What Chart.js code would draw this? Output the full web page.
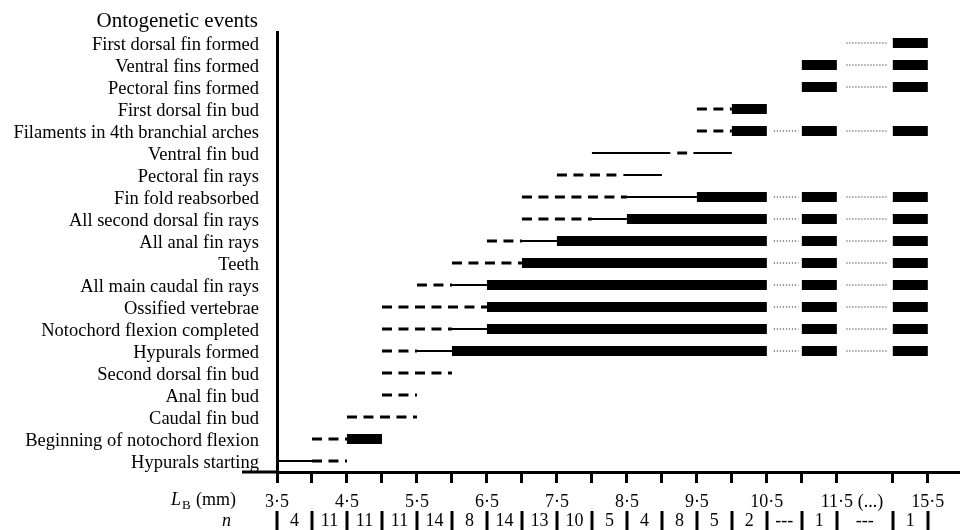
<!DOCTYPE html>
<html>
<head>
<meta charset="utf-8">
<script src="https://cdn.jsdelivr.net/npm/chart.js@4/dist/chart.umd.min.js"></script>
<style>
html,body{margin:0;padding:0;background:#fff}
#wrap{width:960px;height:530px}
</style>
</head>
<body>
<div id="wrap"><canvas id="c" width="960" height="530"></canvas></div>
<script>
// ---------- DATA ----------
const titleText = 'Ontogenetic events';

const events = [
  'First dorsal fin formed',
  'Ventral fins formed',
  'Pectoral fins formed',
  'First dorsal fin bud',
  'Filaments in 4th branchial arches',
  'Ventral fin bud',
  'Pectoral fin rays',
  'Fin fold reabsorbed',
  'All second dorsal fin rays',
  'All anal fin rays',
  'Teeth',
  'All main caudal fin rays',
  'Ossified vertebrae',
  'Notochord flexion completed',
  'Hypurals formed',
  'Second dorsal fin bud',
  'Anal fin bud',
  'Caudal fin bud',
  'Beginning of notochord flexion',
  'Hypurals starting'
];

// [event, from LB (mm), to LB (mm)]
const barSegments = [
  ['First dorsal fin formed', 15.0, 15.5],
  ['Ventral fins formed', 11.0, 11.5], ['Ventral fins formed', 15.0, 15.5],
  ['Pectoral fins formed', 11.0, 11.5], ['Pectoral fins formed', 15.0, 15.5],
  ['First dorsal fin bud', 10.0, 10.5],
  ['Filaments in 4th branchial arches', 10.0, 10.5], ['Filaments in 4th branchial arches', 11.0, 11.5], ['Filaments in 4th branchial arches', 15.0, 15.5],
  ['Fin fold reabsorbed', 9.5, 10.5], ['Fin fold reabsorbed', 11.0, 11.5], ['Fin fold reabsorbed', 15.0, 15.5],
  ['All second dorsal fin rays', 8.5, 10.5], ['All second dorsal fin rays', 11.0, 11.5], ['All second dorsal fin rays', 15.0, 15.5],
  ['All anal fin rays', 7.5, 10.5], ['All anal fin rays', 11.0, 11.5], ['All anal fin rays', 15.0, 15.5],
  ['Teeth', 7.0, 10.5], ['Teeth', 11.0, 11.5], ['Teeth', 15.0, 15.5],
  ['All main caudal fin rays', 6.5, 10.5], ['All main caudal fin rays', 11.0, 11.5], ['All main caudal fin rays', 15.0, 15.5],
  ['Ossified vertebrae', 6.5, 10.5], ['Ossified vertebrae', 11.0, 11.5], ['Ossified vertebrae', 15.0, 15.5],
  ['Notochord flexion completed', 6.5, 10.5], ['Notochord flexion completed', 11.0, 11.5], ['Notochord flexion completed', 15.0, 15.5],
  ['Hypurals formed', 6.0, 10.5], ['Hypurals formed', 11.0, 11.5], ['Hypurals formed', 15.0, 15.5],
  ['Beginning of notochord flexion', 4.5, 5.0]
];

const solidSegments = [
  ['Ventral fin bud', 8.0, 9.12], ['Ventral fin bud', 9.45, 10.0],
  ['Pectoral fin rays', 8.45, 9.0],
  ['Fin fold reabsorbed', 8.5, 9.5],
  ['All second dorsal fin rays', 8.0, 8.5],
  ['All anal fin rays', 7.0, 7.5],
  ['All main caudal fin rays', 6.0, 6.5],
  ['Notochord flexion completed', 6.0, 6.5],
  ['Hypurals formed', 5.5, 6.0],
  ['Hypurals starting', 3.5, 4.0]
];

const dashedSegments = [
  ['First dorsal fin bud', 9.5, 10.0],
  ['Filaments in 4th branchial arches', 9.5, 10.0],
  ['Ventral fin bud', 9.22, 9.36],
  ['Pectoral fin rays', 7.5, 8.4],
  ['Fin fold reabsorbed', 7.0, 8.5],
  ['All second dorsal fin rays', 7.0, 8.0],
  ['All anal fin rays', 6.5, 7.0],
  ['Teeth', 6.0, 7.0],
  ['All main caudal fin rays', 5.5, 6.0],
  ['Ossified vertebrae', 5.0, 6.5],
  ['Notochord flexion completed', 5.0, 6.0],
  ['Hypurals formed', 5.0, 5.5],
  ['Second dorsal fin bud', 5.0, 6.0],
  ['Anal fin bud', 5.0, 5.5],
  ['Caudal fin bud', 4.5, 5.5],
  ['Beginning of notochord flexion', 4.0, 4.5],
  ['Hypurals starting', 4.0, 4.5]
];

const dottedSegments = [
  ['First dorsal fin formed', 12.1, 14.7],
  ['Ventral fins formed', 12.1, 14.7],
  ['Pectoral fins formed', 12.1, 14.7],
  ['Filaments in 4th branchial arches', 10.6, 10.95], ['Filaments in 4th branchial arches', 12.1, 14.7],
  ['Fin fold reabsorbed', 10.6, 10.95], ['Fin fold reabsorbed', 12.1, 14.7],
  ['All second dorsal fin rays', 10.6, 10.95], ['All second dorsal fin rays', 12.1, 14.7],
  ['All anal fin rays', 10.6, 10.95], ['All anal fin rays', 12.1, 14.7],
  ['Teeth', 10.6, 10.95], ['Teeth', 12.1, 14.7],
  ['All main caudal fin rays', 10.6, 10.95], ['All main caudal fin rays', 12.1, 14.7],
  ['Ossified vertebrae', 10.6, 10.95], ['Ossified vertebrae', 12.1, 14.7],
  ['Notochord flexion completed', 10.6, 10.95], ['Notochord flexion completed', 12.1, 14.7],
  ['Hypurals formed', 10.6, 10.95], ['Hypurals formed', 12.1, 14.7]
];

// x-axis (LB, mm) ticks and labels
const xTickValues = [3.5, 4.0, 4.5, 5.0, 5.5, 6.0, 6.5, 7.0, 7.5, 8.0, 8.5, 9.0, 9.5, 10.0, 10.5, 11.0, 11.5, 13.6, 15.0, 15.5];
const xTickLabels = ['3·5', '', '4·5', '', '5·5', '', '6·5', '', '7·5', '', '8·5', '', '9·5', '', '10·5', '', '11·5', '(...)', '', '15·5'];
const gapTickLabel = '(...)';

// n per size class (between consecutive class limits)
const classLimits = [3.5, 4.0, 4.5, 5.0, 5.5, 6.0, 6.5, 7.0, 7.5, 8.0, 8.5, 9.0, 9.5, 10.0, 10.5, 11.0, 11.5, 15.0, 15.5];
const nCounts = ['4', '11', '11', '11', '14', '8', '14', '13', '10', '5', '4', '8', '5', '2', '---', '1', '---', '1'];

// axis break: 11.5 ... 15 mm compressed
const BREAK_FROM = 11.5, BREAK_TO = 15.0, BREAK_WIDTH = 0.8;

// ---------- CHART ----------
const toAxis = mm => mm <= BREAK_FROM ? mm
  : (mm >= BREAK_TO ? BREAK_FROM + BREAK_WIDTH + (mm - BREAK_TO)
  : BREAK_FROM + (mm - BREAK_FROM) * BREAK_WIDTH / (BREAK_TO - BREAK_FROM));

const FONT = 'Liberation Serif';
const styles = {
  dotted: { borderWidth: 1, borderDash: [1, 2] },
  dashed: { borderWidth: 3, borderDash: [10, 6.5] },
  solid:  { borderWidth: 2, borderDash: [] },
  bar:    { borderWidth: 10, borderDash: [] }
};
function makeSets(list, style) {
  return list.map(([ev, a, b]) => ({
    data: [{ x: toAxis(a), y: ev }, { x: toAxis(b), y: ev }],
    borderColor: '#000',
    borderWidth: styles[style].borderWidth,
    borderDash: styles[style].borderDash,
    borderCapStyle: 'butt',
    pointRadius: 0,
    pointHoverRadius: 0,
    fill: false,
    tension: 0
  }));
}
const datasets = [].concat(
  makeSets(barSegments, 'bar'),
  makeSets(solidSegments, 'solid'),
  makeSets(dashedSegments, 'dashed'),
  makeSets(dottedSegments, 'dotted')
);

const annot = {
  id: 'annot',
  afterDraw(chart) {
    const ctx = chart.ctx, xs = chart.scales.x, ys = chart.scales.y;
    const axisY = xs.top;
    ctx.save();
    ctx.fillStyle = '#000';
    ctx.strokeStyle = '#000';
    // title
    ctx.font = '21px "' + FONT + '"';
    ctx.textAlign = 'right';
    ctx.textBaseline = 'alphabetic';
    ctx.fillText(titleText, ys.right - 19, 27);
    // x axis line continues left of the y axis
    ctx.lineWidth = 3;
    ctx.beginPath();
    ctx.moveTo(xs.left - 35, axisY);
    ctx.lineTo(xs.left, axisY);
    ctx.stroke();
    // L_B (mm)
    ctx.textAlign = 'left';
    ctx.font = 'italic 18px "' + FONT + '"';
    ctx.fillText('L', 171, 505);
    ctx.font = '13px "' + FONT + '"';
    ctx.fillText('B', 182, 509);
    ctx.font = '18px "' + FONT + '"';
    ctx.fillText('(mm)', 196, 505);
    // n
    ctx.font = 'italic 18px "' + FONT + '"';
    ctx.fillText('n', 222, 526);
    // separators and counts
    ctx.lineWidth = 3;
    classLimits.forEach(v => {
      const px = Math.round(xs.getPixelForValue(toAxis(v)));
      ctx.beginPath();
      ctx.moveTo(px, 511);
      ctx.lineTo(px, 530);
      ctx.stroke();
    });
    ctx.font = '18px "' + FONT + '"';
    ctx.textAlign = 'center';
    nCounts.forEach((t, i) => {
      const a = xs.getPixelForValue(toAxis(classLimits[i]));
      const b = xs.getPixelForValue(toAxis(classLimits[i + 1]));
      ctx.fillText(t, (a + b) / 2, 526);
    });
    ctx.restore();
  }
};

new Chart(document.getElementById('c'), {
  type: 'line',
  data: { labels: events, datasets },
  options: {
    responsive: false,
    animation: false,
    events: [],
    layout: { padding: { top: 32, left: 0, right: 0, bottom: 0 } },
    plugins: { legend: { display: false }, tooltip: { enabled: false }, title: { display: false } },
    scales: {
      x: {
        type: 'linear',
        min: toAxis(3.5),
        max: 13.26,
        afterBuildTicks: s => { s.ticks = xTickValues.map(v => ({ value: toAxis(v) })); },
        afterFit: s => { s.height = 58; },
        ticks: {
          autoSkip: false, maxRotation: 0, minRotation: 0, padding: 8, color: '#000',
          font: { family: FONT, size: 18 },
          callback: (v, i) => xTickLabels[i]
        },
        grid: {
          display: true, drawOnChartArea: false, drawTicks: true, tickLength: 11,
          tickWidth: 3, lineWidth: 3, color: '#000',
          tickColor: c => xTickLabels[c.index] === gapTickLabel ? 'rgba(0,0,0,0)' : '#000'
        },
        border: { display: true, color: '#000', width: 3 }
      },
      y: {
        type: 'category',
        offset: true,
        afterFit: s => { s.width = 277; },
        ticks: {
          autoSkip: false, padding: 18, labelOffset: 2, color: '#000',
          font: { family: FONT, size: 18.5 }
        },
        grid: { display: false, drawTicks: false },
        border: { display: true, color: '#000', width: 3 }
      }
    }
  },
  plugins: [annot]
});
</script>
</body>
</html>
